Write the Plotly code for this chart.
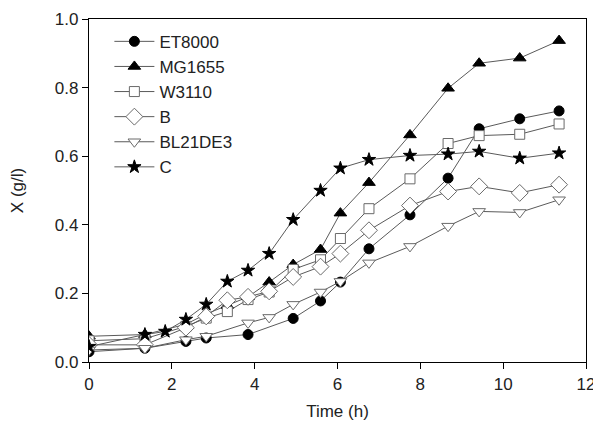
import plotly.graph_objects as go

# ---- data ----
t_et8000 = [0, 1.35, 2.34, 2.83, 3.84, 4.93, 5.59, 6.07, 6.76, 7.75, 8.67, 9.42, 10.4, 11.35]
x_et8000 = [0.030, 0.040, 0.060, 0.070, 0.080, 0.127, 0.178, 0.233, 0.330, 0.429, 0.536, 0.680, 0.709, 0.732]

t_mg1655 = [0, 1.35, 2.34, 2.83, 3.34, 3.84, 4.35, 4.93, 5.59, 6.07, 6.76, 7.75, 8.67, 9.42, 10.4, 11.35]
x_mg1655 = [0.075, 0.080, 0.110, 0.140, 0.165, 0.190, 0.233, 0.284, 0.328, 0.434, 0.523, 0.662, 0.798, 0.871, 0.886, 0.937]

t_w3110 = [0, 1.35, 2.34, 2.83, 3.34, 3.84, 4.35, 4.93, 5.59, 6.07, 6.76, 7.75, 8.67, 9.42, 10.4, 11.35]
x_w3110 = [0.062, 0.068, 0.104, 0.128, 0.147, 0.182, 0.204, 0.270, 0.298, 0.360, 0.447, 0.534, 0.637, 0.660, 0.664, 0.694]

t_b = [0, 1.35, 2.34, 2.83, 3.34, 3.84, 4.35, 4.93, 5.59, 6.07, 6.76, 7.75, 8.67, 9.42, 10.4, 11.35]
x_b = [0.050, 0.050, 0.100, 0.133, 0.180, 0.190, 0.206, 0.248, 0.278, 0.316, 0.384, 0.456, 0.497, 0.512, 0.493, 0.517]

t_bl21 = [0, 1.35, 2.34, 2.83, 3.84, 4.35, 4.93, 5.59, 6.07, 6.76, 7.75, 8.67, 9.42, 10.4, 11.35]
x_bl21 = [0.035, 0.040, 0.065, 0.075, 0.114, 0.130, 0.168, 0.204, 0.235, 0.289, 0.337, 0.396, 0.439, 0.436, 0.473]

t_c = [0, 1.35, 1.84, 2.34, 2.83, 3.34, 3.84, 4.35, 4.93, 5.59, 6.07, 6.76, 7.75, 8.67, 9.42, 10.4, 11.35]
x_c = [0.045, 0.080, 0.089, 0.124, 0.168, 0.235, 0.267, 0.316, 0.415, 0.500, 0.565, 0.590, 0.602, 0.606, 0.614, 0.594, 0.609]

names = ["ET8000", "MG1655", "W3110", "B", "BL21DE3", "C"]
x_tick_vals = [0, 2, 4, 6, 8, 10, 12]
y_tick_vals = [0.0, 0.2, 0.4, 0.6, 0.8, 1.0]

series = [
    (t_et8000, x_et8000, "circle", "black", "black", 10),
    (t_mg1655, x_mg1655, "triangle-up", "black", "black", 11),
    (t_w3110, x_w3110, "square", "white", "#6a6a6a", 10),
    (t_b, x_b, "diamond", "white", "#6a6a6a", 13),
    (t_bl21, x_bl21, "triangle-down", "white", "#6a6a6a", 11),
    (t_c, x_c, "star", "black", "black", 10),
]

FONT = "Liberation Sans, Arial, sans-serif"
LINE = "#5a5a5a"

fig = go.Figure()
for name, (tx, vy, sym, fill, edge, sz) in zip(names, series):
    fig.add_trace(go.Scatter(
        x=tx, y=vy, name=name, mode="lines+markers",
        line=dict(color=LINE, width=1),
        marker=dict(symbol=sym, size=sz, color=fill, line=dict(color=edge, width=1)),
    ))

axis_common = dict(
    showline=True, linecolor="black", linewidth=1.3, mirror=True,
    ticks="outside", ticklen=6, tickwidth=1, tickcolor="black",
    showgrid=False, zeroline=False, automargin=False,
    tickfont=dict(family=FONT, size=17, color="#222222"),
)

fig.update_layout(
    width=593, height=419,
    margin=dict(l=81, r=15, t=11, b=65),
    paper_bgcolor="white", plot_bgcolor="white",
    font=dict(family=FONT, color="#222222"),
    xaxis=dict(range=[0, 12], tickvals=x_tick_vals,
               title=dict(text="Time (h)", font=dict(family=FONT, size=17), standoff=12),
               **axis_common),
    yaxis=dict(range=[0, 1.0], tickvals=y_tick_vals, tickformat=".1f",
               title=dict(text="X (g/l)", font=dict(family=FONT, size=17), standoff=30),
               **axis_common),
    legend=dict(x=0.041, y=0.986, xanchor="left", yanchor="top",
                bgcolor="rgba(0,0,0,0)", borderwidth=0,
                font=dict(family=FONT, size=17, color="#222222"),
                itemwidth=40, tracegroupgap=0),
    showlegend=True,
)

fig.write_html("out.html")
